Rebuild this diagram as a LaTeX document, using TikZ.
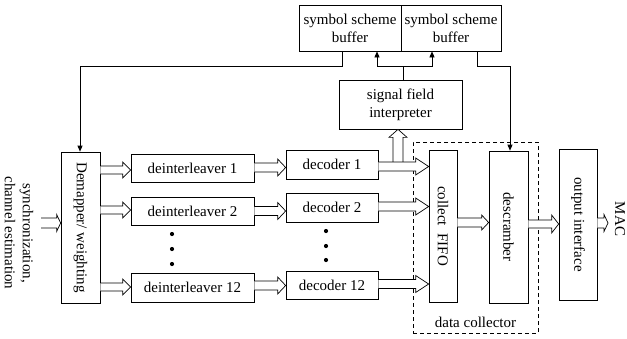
\documentclass[tikz,border=0pt]{standalone}
\usepackage{fontspec}
\setmainfont{Liberation Serif}
\usetikzlibrary{arrows.meta,calc}
\tikzset{
  txt/.style={font=\fontsize{15}{18}\selectfont, align=center, inner sep=0pt},
  bx/.style 2 args={draw, line width=0.7pt, inner sep=0pt, minimum width=#1, minimum height=#2, txt},
  ln/.style={line width=0.7pt},
  tipend/.style={-{Triangle[length=6pt,width=5pt]}},
  hol/.style={draw, fill=white, line width=0.7pt, line join=miter},
  dotnode/.style={circle, fill, inner sep=0pt, minimum size=4.2pt},
  dashbox/.style={draw, line width=0.7pt, dash pattern=on 4pt off 3pt, inner sep=0pt, minimum width=#1},
}
\newcommand\blockarrow[6]{%
  \path (#1 |- 0,#3) coordinate (hA) (#2 |- 0,#3) coordinate (hB);
  \draw[hol] ($(hA)+(0,-#4)$) -- ($(hB)+(-#6,-#4)$) -- ($(hB)+(-#6,-#5)$) -- (hB)
    -- ($(hB)+(-#6,#5)$) -- ($(hB)+(-#6,#4)$) -- ($(hA)+(0,#4)$);
}
\begin{document}
\begin{tikzpicture}[x=1pt,y=-1pt]
\useasboundingbox (0,0) rectangle (627,338);
% boxes
\node[bx={102pt}{46pt}] (buf1) at (350,28) {symbol scheme\\buffer};
\node[bx={100pt}{46pt}] (buf2) at (451,28) {symbol scheme\\buffer};
\node[bx={123pt}{49pt}] (sig) at (400.5,104.5) {signal field\\interpreter};
\node[bx={39pt}{151pt}] (dm) at (80.5,227.5) {};
\node[txt, rotate=-90] (dmlab) at (dm) {Demapper/ weighting};
\node[bx={123pt}{28pt}] (di1) at (192.5,168) {deinterleaver 1};
\node[bx={123pt}{28pt}] (di2) at (192.5,211) {deinterleaver 2};
\node[bx={123pt}{29pt}] (di12) at (192.5,287.5) {deinterleaver 12};
\node[bx={92pt}{29pt}] (dc1) at (332,164.5) {decoder 1};
\node[bx={92pt}{29pt}] (dc2) at (332,207.5) {decoder 2};
\node[bx={92pt}{28pt}] (dc12) at (332,285) {decoder 12};
\node[dashbox={125pt}, minimum height=191pt] (coll) at (475.5,237.5) {};
\node[txt] (colllab) at (475.5,322) {data collector};
\node[bx={28pt}{152pt}] (fifo) at (443,226) {};
\node[txt, rotate=-90] (fifolab) at (fifo) {collect\ \ FIFO};
\node[bx={39pt}{152pt}] (desc) at (508.5,227) {};
\node[txt, rotate=-90] (desclab) at (desc) {descramber};
\node[bx={38pt}{151pt}] (out) at (578,224.5) {};
\node[txt, rotate=-90] (outlab) at (out) {output interface};
\node[txt, rotate=-90] (maclab) at (620,219) {MAC};
\node[txt, rotate=-90] (inlab) at (19,233) {synchronization,\\channel estimation};
% dots
\node[dotnode] (da1) at (172,234) {};
\node[dotnode] (da2) at (172,249) {};
\node[dotnode] (da3) at (172,264) {};
\node[dotnode] (db1) at (326,231) {};
\node[dotnode] (db2) at (326,246) {};
\node[dotnode] (db3) at (326,260) {};
% feedback lines
\coordinate (fbl) at (80,66);
\coordinate (fbr) at (510,66);
\coordinate (sj) at (403,66);
\draw[ln,tipend] (buf1.south -| 342,0) |- (fbl) -- (dm.north -| fbl);
\draw[ln,tipend] (buf2.south -| 477,0) |- (fbr) -- (desc.north -| fbr);
\draw[ln] (sig.north -| sj) -- (sj);
\draw[ln,tipend] (sj) -| (buf1.south -| 377,0);
\draw[ln,tipend] (sj) -| (buf2.south -| 432,0);
% hollow arrows
\coordinate (inp) at (41,223);
\coordinate (mac) at (608,223);
\blockarrow{inp}{dm.west}{223}{5}{8.5}{4}
\blockarrow{dm.east}{di1.west}{170}{4}{8}{8}
\blockarrow{dm.east}{di2.west}{210}{4}{8}{8}
\blockarrow{dm.east}{di12.west}{287}{4}{8}{8}
\blockarrow{di1.east}{dc1.west}{167.5}{4.5}{8.5}{8}
\blockarrow{di2.east}{dc2.west}{211}{4.5}{8.5}{8}
\blockarrow{di12.east}{dc12.west}{285.5}{4.5}{8.5}{8}
\coordinate (vt) at (sig.south -| 398,0);
\draw[hol] ($(vt)+(-5,33)$) -- ($(vt)+(-5,8)$) -- ($(vt)+(-9,8)$) -- (vt) -- ($(vt)+(9,8)$) -- ($(vt)+(5,8)$) -- ($(vt)+(5,33)$);
\blockarrow{dc1.east}{fifo.west}{166.5}{4.5}{8.5}{13}
\blockarrow{dc2.east}{fifo.west}{206.5}{4.5}{8.5}{13}
\blockarrow{dc12.east}{fifo.west}{284}{4.5}{8.5}{13}
\blockarrow{fifo.east}{desc.west}{222.5}{4.5}{7.5}{7}
\blockarrow{desc.east}{out.west}{224}{4}{9}{7}
\blockarrow{out.east}{mac}{223}{5}{8.5}{4}
\end{tikzpicture}
\end{document}
